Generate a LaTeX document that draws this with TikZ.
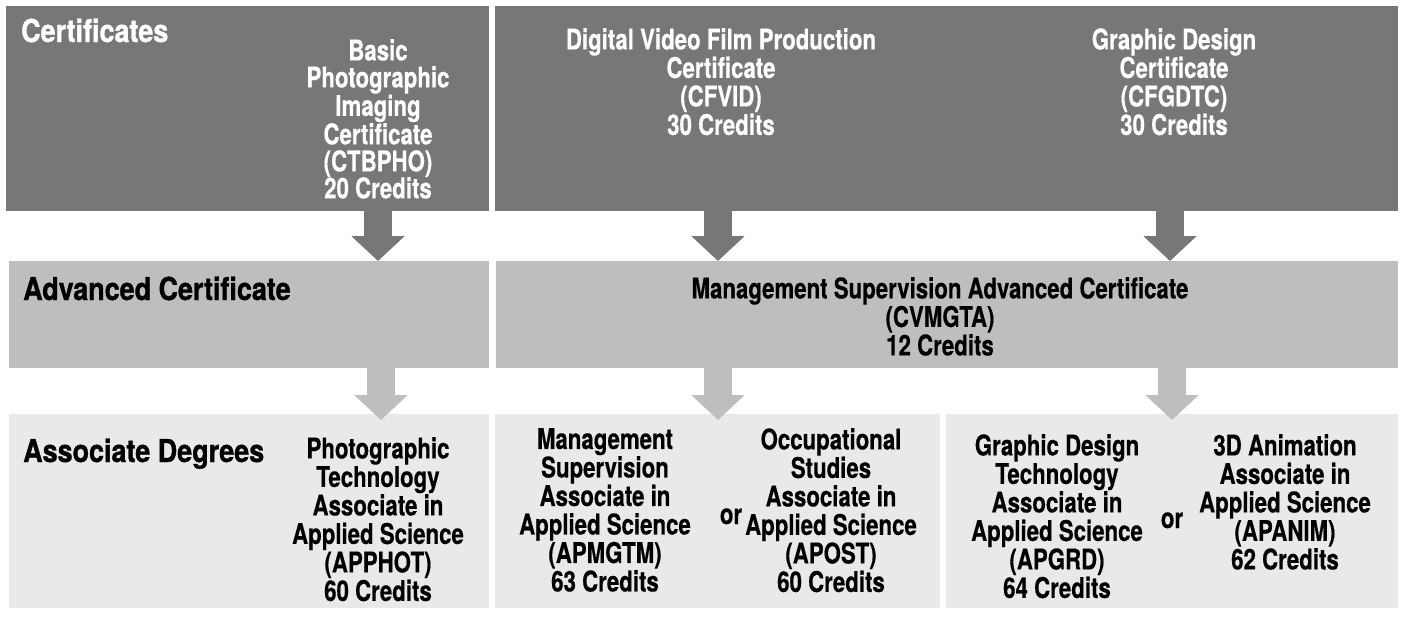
\documentclass[tikz,border=0pt]{standalone}
\usepackage{fontspec}
\setmainfont{TeX Gyre Heros}
\newfontfamily\progfont[FakeStretch=0.78, FakeBold=0.4]{TeX Gyre Heros}
\newfontfamily\rowfont[FakeStretch=0.855, FakeBold=1]{TeX Gyre Heros}
\usepackage{tikz}
\usetikzlibrary{arrows.meta, positioning, calc}
\definecolor{certgray}{RGB}{119,119,119}
\definecolor{advgray}{RGB}{190,190,190}
\definecolor{assocgray}{RGB}{233,233,233}

\begin{document}
\begin{tikzpicture}[x=1pt, y=-1pt,
        band/.style={draw=none, inner sep=0, outer sep=0, anchor=north west},
        prog/.style={inner sep=0, align=center, anchor=north,
                     font=\progfont\bfseries\fontsize{28.5}{28.5}\selectfont},
        orword/.style={inner sep=0, anchor=base,
                       font=\progfont\bfseries\fontsize{28.5}{28.5}\selectfont},
        rowtitle/.style={inner sep=0, anchor=base west,
                         font=\rowfont\bfseries\fontsize{31.5}{32}\selectfont},
        darrow/.style={line width=28pt, -{Triangle[width=52pt, length=25pt]}}]
        \useasboundingbox[fill=white] (0,0) rectangle (1404,618);

        % rows
        \node[band, fill=certgray, minimum width=483pt, minimum height=205pt] (certL) at (6,6) {};
        \node[band, fill=certgray, minimum width=903pt, minimum height=205pt] (certR) at (495,6) {};
        \node[band, fill=advgray, minimum width=480pt, minimum height=107pt] (advL) at (9,261) {};
        \node[band, fill=advgray, minimum width=902pt, minimum height=107pt] (advR) at (496,261) {};
        \node[band, fill=assocgray, minimum width=480pt, minimum height=194pt] (assocL) at (9,414) {};
        \node[band, fill=assocgray, minimum width=445pt, minimum height=194pt] (assocM) at (495,414) {};
        \node[band, fill=assocgray, minimum width=452pt, minimum height=194pt] (assocR) at (946,414) {};

        % certificates
        \node[rowtitle, text=white] (certT) at (21,42) {Certificates};
        \node[prog, text=white, font=\progfont\bfseries\fontsize{28.5}{27}\selectfont] (basic) at (378,39) {Basic\\Photographic\\Imaging\\Certificate\\(CTBPHO)\\20 Credits};
        \node[prog, text=white] (video) at (721,28) {Digital Video Film Production\\Certificate\\(CFVID)\\30 Credits};
        \node[prog, text=white] (gdcert) at (1174,28) {Graphic Design\\Certificate\\(CFGDTC)\\30 Credits};

        % advanced certificate
        \node[rowtitle] (advT) at (23,300) {Advanced Certificate};
        \node[prog] (mgmtadv) at (940,277) {Management Supervision Advanced Certificate\\(CVMGTA)\\12 Credits};

        % associate degrees
        \node[rowtitle] (assocT) at (23,462) {Associate Degrees};
        \node[prog] (photo) at (378,437) {Photographic\\Technology\\Associate in\\Applied Science\\(APPHOT)\\60 Credits};
        \node[prog] (mgmt) at (605,428) {Management\\Supervision\\Associate in\\Applied Science\\(APMGTM)\\63 Credits};
        \node[orword] (orA) at (731,524) {or};
        \node[prog] (occ) at (831,428) {Occupational\\Studies\\Associate in\\Applied Science\\(APOST)\\60 Credits};
        \node[prog] (gdtech) at (1057,434) {Graphic Design\\Technology\\Associate in\\Applied Science\\(APGRD)\\64 Credits};
        \node[orword] (orB) at (1172,528) {or};
        \node[prog] (anim) at (1285,434) {3D Animation\\Associate in\\Applied Science\\(APANIM)\\62 Credits};

        % arrows
        \coordinate (topA) at (378,0);
        \coordinate (topB) at (718,0);
        \coordinate (topC) at (1170,0);
        \coordinate (lowA) at (381,0);
        \coordinate (lowB) at (718,0);
        \coordinate (lowC) at (1172,0);

        \draw[darrow, certgray] (certL.south -| topA) -- (advL.north -| topA);
        \draw[darrow, certgray] (certR.south -| topB) -- (advR.north -| topB);
        \draw[darrow, certgray] (certR.south -| topC) -- (advR.north -| topC);
        \draw[darrow, advgray] (advL.south -| lowA) -- ($(assocL.north -| lowA)+(0,6)$);
        \draw[darrow, advgray] (advR.south -| lowB) -- ($(assocM.north -| lowB)+(0,6)$);
        \draw[darrow, advgray] (advR.south -| lowC) -- ($(assocR.north -| lowC)+(0,6)$);
    \end{tikzpicture}
\end{document}
